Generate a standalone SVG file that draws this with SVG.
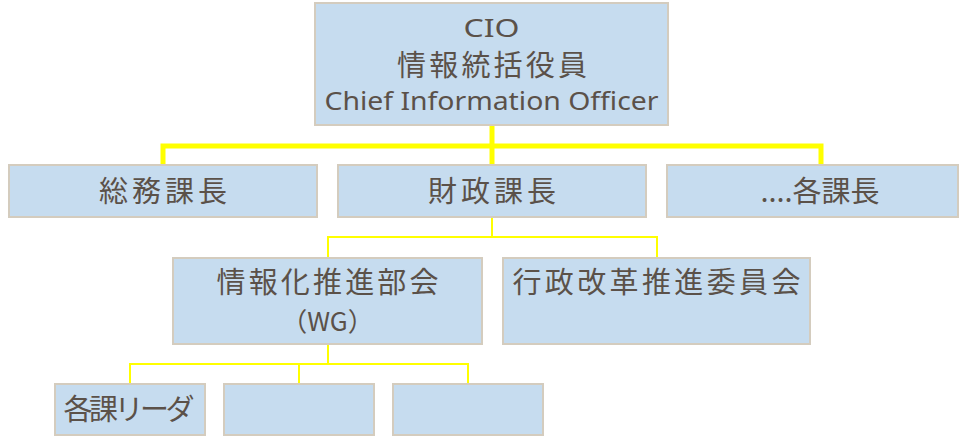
<svg xmlns="http://www.w3.org/2000/svg" width="963" height="436" viewBox="0 0 963 436">
<style>
.box{fill:#c6dcef;stroke:#d4ccbe;stroke-width:2}
.t{font-family:"Noto Sans CJK JP","Noto Sans",sans-serif;fill:#5b5149;font-size:29px;text-anchor:middle}
.l{font-family:"Noto Sans","Noto Sans CJK JP",sans-serif;fill:#5b5149;font-size:26px;text-anchor:middle}
.thick{fill:none;stroke:#ffff00;stroke-width:5}
.thin{fill:none;stroke:#ffff00;stroke-width:2}
</style>
<rect width="963" height="436" fill="#ffffff"/>
<g id="connectors">
<path class="thick" d="M492 125V165M163 165V146H821V165"/>
<path class="thin" d="M492 217V237M328 258V237H657V258"/>
<path class="thin" d="M328 344V364M130 384V364H468V384M299 364V384"/>
</g>
<g id="cio">
<rect class="box" x="315" y="3" width="353" height="122"/>
<text class="l" x="491.5" y="37" textLength="56" lengthAdjust="spacingAndGlyphs">CIO</text>
<text class="t" x="492" y="76" textLength="190">情報統括役員</text>
<text class="l" x="491.5" y="110" textLength="334" lengthAdjust="spacingAndGlyphs">Chief Information Officer</text>
</g>
<g id="soumu">
<rect class="box" x="9" y="165" width="308" height="52"/>
<text class="t" x="163" y="202" textLength="128">総務課長</text>
</g>
<g id="zaisei">
<rect class="box" x="338" y="165" width="308" height="52"/>
<text class="t" x="492" y="202" textLength="128">財政課長</text>
</g>
<g id="kakuka">
<rect class="box" x="667" y="165" width="291" height="52"/>
<text class="t" x="820" y="202">....各課長</text>
</g>
<g id="johoka">
<rect class="box" x="173" y="258" width="309" height="86"/>
<text class="t" x="327.5" y="293" textLength="222">情報化推進部会</text>
<text class="t" x="327.5" y="331" style="font-size:26px">（WG）</text>
</g>
<g id="gyosei">
<rect class="box" x="503" y="258" width="307" height="86"/>
<text class="t" x="656.5" y="293" textLength="288">行政改革推進委員会</text>
</g>
<g id="leader">
<rect class="box" x="55" y="384" width="150" height="51"/>
<text class="t" x="129" y="420" textLength="131">各課リーダ</text>
</g>
<g id="blank1">
<rect class="box" x="224" y="384" width="150" height="51"/>
</g>
<g id="blank2">
<rect class="box" x="393" y="384" width="150" height="51"/>
</g>
</svg>
